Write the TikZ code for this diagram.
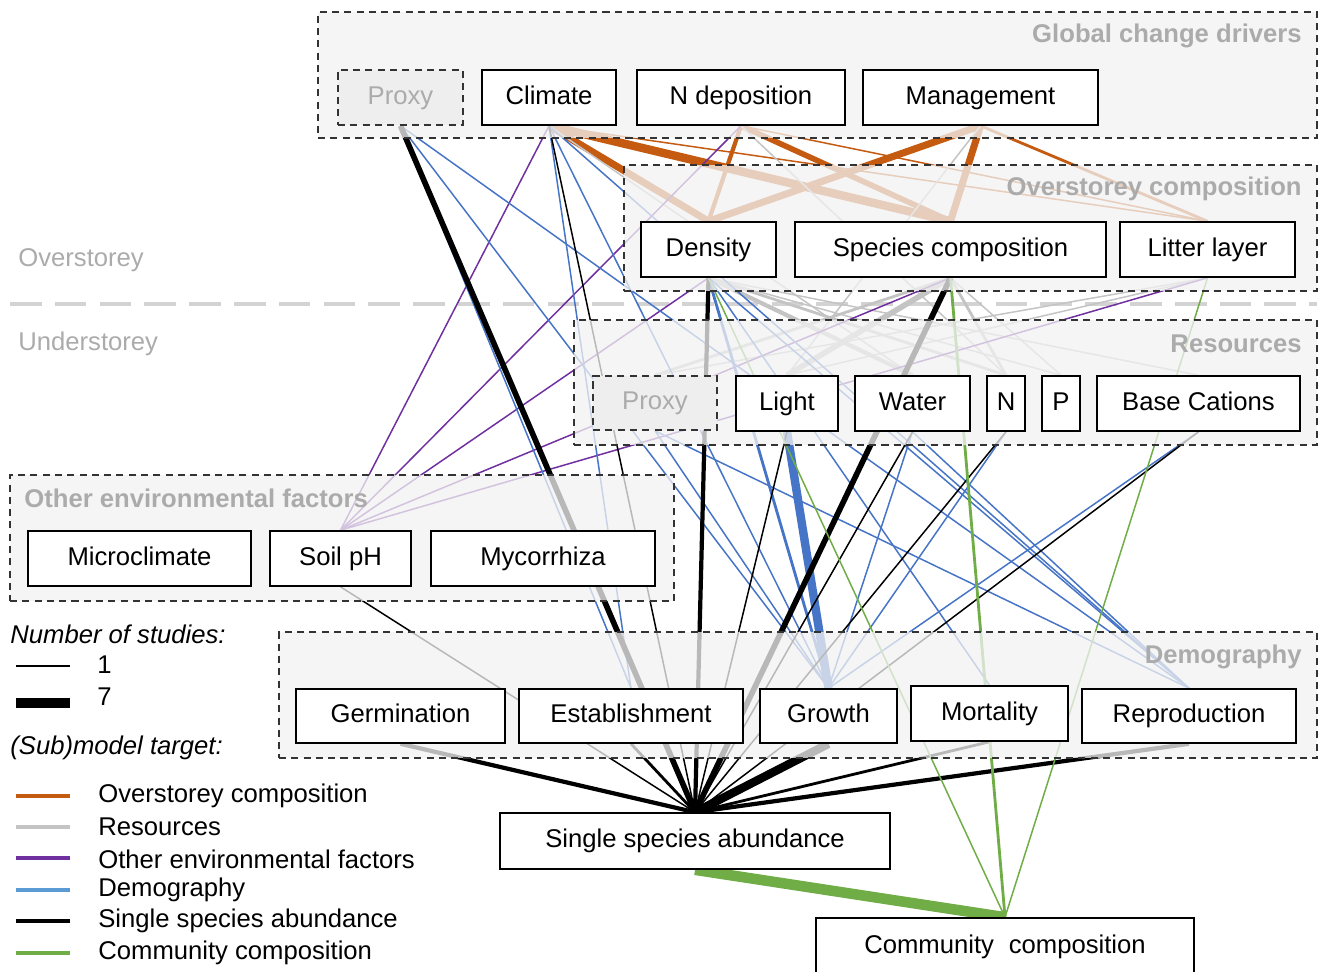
\documentclass[tikz,border=0pt]{standalone}
\usepackage{fontspec}
\setmainfont{Liberation Sans}
\pgfdeclarelayer{edgelayer}
\pgfdeclarelayer{grouplayer}
\pgfsetlayers{edgelayer,grouplayer,main}
\definecolor{orn}{HTML}{C55A11}
\definecolor{res}{HTML}{C4C4C4}
\definecolor{pur}{HTML}{7030A0}
\definecolor{blu}{HTML}{4674C6}
\definecolor{lblu}{HTML}{5B9BD5}
\definecolor{grn}{HTML}{70AD47}
\definecolor{lbl}{HTML}{ABABAB}
\definecolor{gfill}{HTML}{F2F2F2}
\definecolor{pfill}{HTML}{EEEEEE}
\definecolor{dsh}{HTML}{333333}
\definecolor{divider}{HTML}{D3D3D3}
\newcommand\BX[7]{\node[#7, minimum width={(#4-#2)*0.02cm}, minimum height={(#5-#3)*0.02cm}] (#1) at ({(#2+#4)/2},{(#3+#5)/2}) {#6};}
\newcommand\ED[4]{\draw[#1,#2] (#3.south) -- (#4.north);}
\newcommand\bfs{\fontsize{14.6}{17.5}\selectfont}
\tikzset{
  box/.style={draw=black, line width=0.9pt, fill=white, inner sep=0pt, text height=10.8pt, text depth=3.2pt},
  proxybox/.style={draw=dsh, line width=0.9pt, dash pattern=on 4pt off 3pt, fill=pfill, text=lbl, inner sep=0pt, text height=10.8pt, text depth=3.2pt},
  grp/.style={draw=dsh, line width=0.9pt, dash pattern=on 4pt off 3pt, fill=gfill, fill opacity=0.76, inner sep=0pt},
  grplabel/.style={text=lbl, font=\bfs\bfseries, inner sep=0pt},
  storey/.style={text=lbl, inner sep=0pt, anchor=west},
  legtext/.style={inner sep=0pt, anchor=west},
  lw1/.style={line width=0.85pt},
  lw2/.style={line width=1.6pt},
  lw3/.style={line width=2.4pt},
  lw4/.style={line width=3.2pt},
  lw5/.style={line width=4pt},
  lw6/.style={line width=4.8pt},
  lw7/.style={line width=6pt}
}
\begin{document}
\begin{tikzpicture}[x=0.02cm, y=-0.02cm, font=\bfs]
\useasboundingbox (0,0) rectangle (1327,971);
% nodes
\BX{ptop}{338}{70}{463}{125}{Proxy}{proxybox}
\BX{climate}{482}{70}{616}{125}{Climate}{box}
\BX{ndep}{637}{70}{845}{125}{N deposition}{box}
\BX{mgmt}{863}{70}{1098}{125}{Management}{box}
\BX{density}{641}{222}{776}{277}{Density}{box}
\BX{species}{795}{222}{1106}{277}{Species composition}{box}
\BX{litter}{1120}{222}{1295}{277}{Litter layer}{box}
\BX{pres}{593}{376}{717}{430}{Proxy}{proxybox}
\BX{light}{736}{376}{838}{431}{Light}{box}
\BX{water}{855}{376}{970}{431}{Water}{box}
\BX{nn}{987}{376}{1025}{431}{N}{box}
\BX{pp}{1042}{376}{1080}{431}{P}{box}
\BX{base}{1097}{376}{1300}{431}{Base Cations}{box}
\BX{micro}{28}{531}{251}{586}{Microclimate}{box}
\BX{soilph}{270}{531}{411}{586}{Soil pH}{box}
\BX{myco}{431}{531}{655}{586}{Mycorrhiza}{box}
\BX{germ}{296}{689}{505}{743}{Germination}{box}
\BX{estab}{519}{689}{743}{743}{Establishment}{box}
\BX{growth}{760}{689}{897}{743}{Growth}{box}
\BX{mort}{911}{686}{1068}{741}{Mortality}{box}
\BX{repro}{1082}{689}{1296}{743}{Reproduction}{box}
\BX{ssa}{500}{813}{890}{869}{Single species abundance}{box}
\BX{comm}{816}{918}{1194}{976}{Community\hspace{0.3em} composition}{box}
% storey labels
\node[storey] (over) at (18,260) {Overstorey};
\node[storey] (under) at (18,344) {Understorey};
% legend
\node[legtext, font=\bfs\itshape] (nstud) at (10,634) {Number of studies:};
\node[legtext] (l1) at (97,665) {1};
\node[legtext] (l7) at (97,697) {7};
\node[legtext, font=\bfs\itshape] (subm) at (10,748) {(Sub)model target:};
\node[legtext] (t1) at (98,796) {Overstorey composition};
\node[legtext] (t2) at (98,827) {Resources};
\node[legtext] (t3) at (98,859) {Other environmental factors};
\node[legtext] (t4) at (98,890) {Demography};
\node[legtext] (t5) at (98,921) {Single species abundance};
\node[legtext] (t6) at (98,953) {Community composition};
\draw[line width=0.8pt] (16,666) -- (70,666);
\draw[line width=5.7pt] (16,703) -- (70,703);
\draw[orn, line width=2.4pt] (16,796) -- (70,796);
\draw[res, line width=2.4pt] (16,827) -- (70,827);
\draw[pur, line width=2.4pt] (16,858) -- (70,858);
\draw[lblu, line width=2.4pt] (16,890) -- (70,890);
\draw[black, line width=2.4pt] (16,921) -- (70,921);
\draw[grn, line width=2.4pt] (16,953) -- (70,953);
% groups
\begin{pgfonlayer}{grouplayer}
\BX{ggcd}{318}{12}{1317}{138}{}{grp}
\BX{gover}{624}{165}{1317}{291}{}{grp}
\BX{gres}{574}{320}{1317}{445}{}{grp}
\BX{genv}{10}{475}{674}{601}{}{grp}
\BX{gdemo}{279}{632}{1317}{758}{}{grp}
\node[grplabel, anchor=east] (lgcd) at (1302,36) {Global change drivers};
\node[grplabel, anchor=east] (lover) at (1302,189) {Overstorey composition};
\node[grplabel, anchor=east] (lres) at (1302,344) {Resources};
\node[grplabel, anchor=west] (lenv) at (24,498) {Other environmental factors};
\node[grplabel, anchor=east] (ldemo) at (1302,657) {Demography};
\end{pgfonlayer}
% edges
\begin{pgfonlayer}{edgelayer}
\draw[divider, line width=2.3pt, dash pattern=on 18pt off 7.5pt] (10,304) -- (1317,304);
% overstorey composition
\ED{orn}{lw5}{climate}{density}
\ED{orn}{lw6}{climate}{species}
\ED{orn}{lw1}{climate}{litter}
\ED{orn}{lw3}{ndep}{density}
\ED{orn}{lw4}{ndep}{species}
\ED{orn}{lw1}{ndep}{litter}
\ED{orn}{lw5}{mgmt}{density}
\ED{orn}{lw5}{mgmt}{species}
\ED{orn}{lw2}{mgmt}{litter}
% resources
\ED{res}{lw3}{density}{water}
\ED{res}{lw2}{density}{nn}
\ED{res}{lw1}{density}{pp}
\ED{res}{lw1}{density}{base}
\ED{res}{lw4}{species}{light}
\ED{res}{lw2}{species}{pres}
\ED{res}{lw2}{species}{nn}
\ED{res}{lw1}{species}{pp}
\ED{res}{lw1}{litter}{light}
\ED{res}{lw1}{litter}{pres}
\ED{res}{lw1}{climate}{water}
\ED{res}{lw1}{ndep}{nn}
\ED{res}{lw1}{mgmt}{light}
% other environmental factors
\ED{pur}{lw1}{climate}{soilph}
\ED{pur}{lw1}{ndep}{soilph}
\ED{pur}{lw1}{density}{soilph}
\ED{pur}{lw1}{species}{soilph}
\ED{pur}{lw1}{litter}{soilph}
% demography
\ED{blu}{lw1}{ptop}{estab}
\ED{blu}{lw1}{ptop}{growth}
\ED{blu}{lw1}{ptop}{repro}
\ED{blu}{lw1}{climate}{estab}
\ED{blu}{lw1}{climate}{growth}
\ED{blu}{lw1}{climate}{repro}
\ED{blu}{lw2}{density}{growth}
\ED{blu}{lw1}{density}{mort}
\ED{blu}{lw1}{density}{repro}
\ED{blu}{lw1}{pres}{growth}
\ED{blu}{lw1}{pres}{repro}
\ED{blu}{lw6}{light}{growth}
\ED{blu}{lw1}{water}{growth}
\ED{blu}{lw1}{water}{repro}
\ED{blu}{lw1}{nn}{growth}
\ED{blu}{lw1}{base}{growth}
% single species abundance
\ED{black}{lw4}{ptop}{ssa}
\ED{black}{lw1}{climate}{ssa}
\ED{black}{lw3}{density}{ssa}
\ED{black}{lw4}{species}{ssa}
\ED{black}{lw1}{light}{ssa}
\ED{black}{lw1}{water}{ssa}
\ED{black}{lw1}{nn}{ssa}
\ED{black}{lw1}{base}{ssa}
\ED{black}{lw1}{soilph}{ssa}
\ED{black}{lw3}{germ}{ssa}
\ED{black}{lw2}{estab}{ssa}
\ED{black}{lw6}{growth}{ssa}
\ED{black}{lw2}{mort}{ssa}
\ED{black}{lw3}{repro}{ssa}
% community composition
\ED{grn}{lw7}{ssa}{comm}
\ED{grn}{lw2}{species}{comm}
\ED{grn}{lw1}{litter}{comm}
\ED{grn}{lw1}{density}{comm}
\end{pgfonlayer}
\end{tikzpicture}
\end{document}
